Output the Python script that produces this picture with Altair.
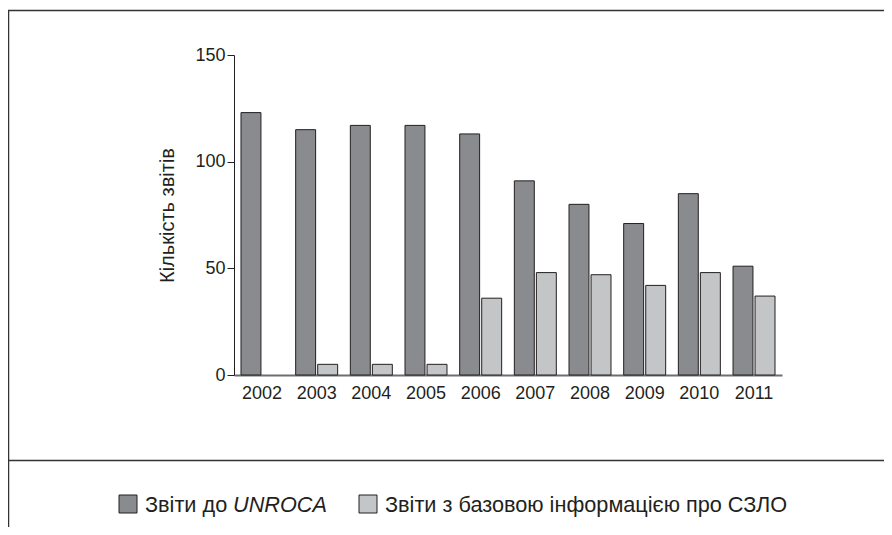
import altair as alt
import pandas as pd

years = ["2002", "2003", "2004", "2005", "2006", "2007", "2008", "2009", "2010", "2011"]
unroca = [123, 115, 117, 117, 113, 91, 80, 71, 85, 51]
salw = [None, 5, 5, 5, 36, 48, 47, 42, 48, 37]
series_names = ["Звіти до UNROCA", "Звіти з базовою інформацією про СЗЛО"]
series_colors = ["#8a8b8f", "#c4c5c7"]
y_ticks = [0, 50, 100, 150]
y_title = "Кількість звітів"

rows = []
for y, a, b in zip(years, unroca, salw):
    rows.append({"year": y, "series": series_names[0], "value": a})
    if b is not None:
        rows.append({"year": y, "series": series_names[1], "value": b})
df = pd.DataFrame(rows)

# plot origin in page pixels
OX, OY = 234, 55
FONT = "Liberation Sans"
TXT = "#231f20"

bars = alt.Chart(df).mark_bar(stroke=TXT, strokeWidth=1).encode(
    x=alt.X("year:N", sort=years,
            scale=alt.Scale(paddingInner=0.232, paddingOuter=0.128),
            axis=alt.Axis(title=None, labelAngle=0, ticks=False, tickSize=0,
                          domainColor="#6d6e71", domainWidth=2,
                          labelFontSize=18, labelFont=FONT, labelColor=TXT,
                          labelPadding=9)),
    xOffset=alt.XOffset("series:N", sort=series_names,
                        scale=alt.Scale(paddingInner=0.095, paddingOuter=0)),
    y=alt.Y("value:Q", scale=alt.Scale(domain=[0, 150]),
            axis=alt.Axis(values=y_ticks, grid=False, title=y_title,
                          domainColor=TXT, domainWidth=1, tickColor=TXT,
                          tickSize=7, labelPadding=2, labelFontSize=18,
                          labelFont=FONT, labelColor=TXT,
                          titleFont=FONT, titleFontSize=20, titleFontWeight="normal",
                          titleColor=TXT, titleAngle=270, titleX=-61, titleY=160,
                          titleAlign="center", titleBaseline="alphabetic")),
    color=alt.Color("series:N", sort=series_names,
                    scale=alt.Scale(domain=series_names, range=series_colors),
                    legend=None),
)

one = pd.DataFrame({"a": [0]})

def hline(py, x0, x1, color="#333333", w=1.5):
    return alt.Chart(one).mark_rule(color=color, strokeWidth=w).encode(
        x=alt.value(x0 - OX), x2=alt.value(x1 - OX), y=alt.value(py - OY))

def vline(px, y0, y1, color="#333333", w=1.5):
    return alt.Chart(one).mark_rule(color=color, strokeWidth=w).encode(
        x=alt.value(px - OX), y=alt.value(y0 - OY), y2=alt.value(y1 - OY))

frame = [
    hline(10.5, 8, 884),
    vline(8.5, 10, 535),
    hline(460.5, 8, 884),
]

def square(px, py, color):
    return alt.Chart(one).mark_square(size=18 * 18, color=color, stroke=TXT,
                                      strokeWidth=1, opacity=1).encode(
        x=alt.value(px - OX), y=alt.value(py - OY))

def label(px, py, text, italic=False):
    return alt.Chart(one).mark_text(text=text, align="left", baseline="alphabetic",
                                    font=FONT, fontSize=21.7, color=TXT,
                                    fontStyle="italic" if italic else "normal").encode(
        x=alt.value(px - OX), y=alt.value(py - OY))

legend = [
    square(128, 504, series_colors[0]),
    label(145, 512, "Звіти до"),
    label(233, 512, "UNROCA", italic=True),
    square(368, 504, series_colors[1]),
    label(385, 512, "Звіти з базовою інформацією про СЗЛО"),
]

chart = alt.layer(bars, *frame, *legend).properties(
    width=548, height=320,
    background="white",
    padding={"left": OX - 8, "top": OY - 8, "right": 876 - (OX - 8) - 548,
             "bottom": 519 - (OY - 8) - 320},
    autosize=alt.AutoSizeParams(type="none"),
).configure_view(strokeWidth=0, stroke="transparent")

chart.save("out.html", embed_options={"renderer": "svg", "actions": False})
